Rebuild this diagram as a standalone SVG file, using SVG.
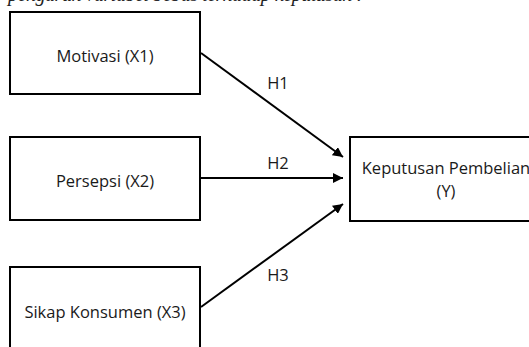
<svg xmlns="http://www.w3.org/2000/svg" width="529" height="347" viewBox="0 0 529 347">
<style>
.box{fill:#fff;stroke:#000;stroke-width:2}
.lbl{font-family:"Open Sans","Liberation Sans",sans-serif;font-size:16.5px;fill:#1a1a1a;text-anchor:middle}
.conn{stroke:#000;stroke-width:2;fill:none}
.top{font-family:"Liberation Serif",serif;font-style:italic;font-size:20px;fill:#222}
</style>
<defs>
<marker id="ah" markerUnits="userSpaceOnUse" markerWidth="11" markerHeight="10" refX="10" refY="5" orient="auto">
<path d="M0,0 L10,5 L0,10 Z" fill="#000"/>
</marker>
</defs>
<rect width="529" height="347" fill="#fff"/>
<text class="top" x="8" y="1" textLength="355">pengaruh variabel bebas terhadap keputusan :</text>
<g id="n1"><rect class="box" x="10" y="12" width="190" height="82"/><text class="lbl" x="105" y="62">Motivasi (X1)</text></g>
<g id="n2"><rect class="box" x="10" y="137" width="190" height="83"/><text class="lbl" x="105" y="187">Persepsi (X2)</text></g>
<g id="n3"><rect class="box" x="10" y="267" width="190" height="100"/><text class="lbl" x="105" y="318">Sikap Konsumen (X3)</text></g>
<g id="y"><rect class="box" x="350" y="137" width="200" height="84"/><text class="lbl" x="446" y="174">Keputusan Pembelian</text><text class="lbl" x="446" y="197">(Y)</text></g>
<g id="connectors">
<line class="conn" x1="201" y1="53" x2="343" y2="157" marker-end="url(#ah)"/>
<line class="conn" x1="201" y1="178" x2="343" y2="178" marker-end="url(#ah)"/>
<line class="conn" x1="201" y1="307" x2="343" y2="204" marker-end="url(#ah)"/>
<text class="lbl" x="278" y="89">H1</text>
<text class="lbl" x="278" y="169">H2</text>
<text class="lbl" x="278" y="281">H3</text>
</g>
</svg>
